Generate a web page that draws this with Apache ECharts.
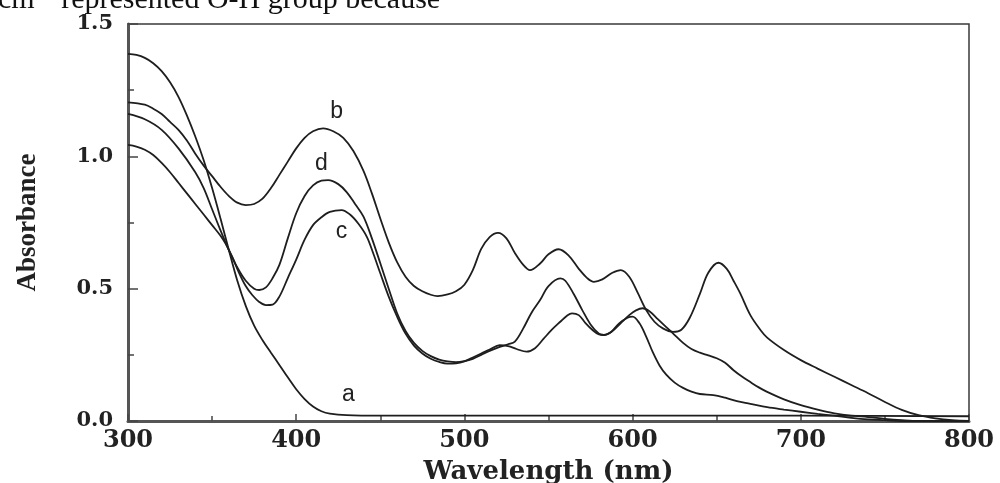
<!DOCTYPE html>
<html>
<head>
<meta charset="utf-8">
<title>Absorbance spectra</title>
<script src="https://cdn.jsdelivr.net/npm/echarts@6/dist/echarts.min.js"></script>
<style>
    html, body {margin: 0; padding: 0; background: #fff;}
    #chart {width: 1000px; height: 483px;}
</style>
</head>
<body>
<div id="chart"></div>
<script>
// 刻度
const xTicks = [300, 400, 500, 600, 700, 800];
const yTicks = [0.0, 0.5, 1.0, 1.5];

// 曲线 a
const aWl = [300, 305, 310, 315, 320, 325, 330, 335, 340, 345, 350, 355, 360, 365, 370, 375, 380, 385, 390, 395, 400, 405, 410, 415, 420, 430, 450, 500, 600, 700, 800];
const aAbs = [1.387, 1.383, 1.372, 1.352, 1.322, 1.28, 1.225, 1.155, 1.075, 0.985, 0.88, 0.765, 0.645, 0.53, 0.435, 0.36, 0.305, 0.258, 0.212, 0.165, 0.12, 0.083, 0.055, 0.037, 0.028, 0.022, 0.02, 0.02, 0.02, 0.02, 0.018];

// 曲线 b
const bWl = [300, 310, 315, 320, 325, 330, 335, 340, 345, 350, 355, 360, 365, 370, 375, 380, 385, 390, 395, 400, 405, 410, 416, 422, 428, 434, 440, 445, 450, 455, 460, 465, 470, 475, 480, 484, 490, 495, 500, 505, 510, 515, 520, 525, 530, 535, 539, 545, 550, 556, 562, 568, 573, 577, 582, 588, 593, 598, 603, 608, 613, 618, 624, 629, 634, 640, 645, 651, 656, 660, 664, 670, 676, 680, 690, 700, 710, 720, 730, 740, 750, 760, 770, 780, 790, 800];
const bAbs = [1.204, 1.195, 1.18, 1.16, 1.13, 1.10, 1.06, 1.01, 0.965, 0.925, 0.885, 0.85, 0.825, 0.816, 0.82, 0.84, 0.88, 0.93, 0.98, 1.03, 1.07, 1.095, 1.106, 1.095, 1.07, 1.02, 0.945, 0.86, 0.765, 0.675, 0.60, 0.545, 0.51, 0.49, 0.477, 0.472, 0.478, 0.49, 0.515, 0.57, 0.65, 0.695, 0.711, 0.69, 0.635, 0.59, 0.57, 0.595, 0.63, 0.649, 0.625, 0.575, 0.54, 0.526, 0.535, 0.56, 0.57, 0.545, 0.485, 0.42, 0.375, 0.35, 0.337, 0.345, 0.39, 0.48, 0.56, 0.598, 0.575, 0.53, 0.482, 0.40, 0.344, 0.315, 0.268, 0.23, 0.198, 0.167, 0.136, 0.105, 0.072, 0.042, 0.022, 0.01, 0.003, 0.0];

// 曲线 c
const cWl = [300, 305, 310, 315, 320, 325, 330, 335, 340, 345, 350, 355, 358, 362, 366, 370, 374, 378, 382, 386, 390, 395, 400, 405, 410, 415, 420, 427, 432, 437, 442, 446, 450, 455, 460, 465, 470, 475, 480, 485, 490, 495, 500, 505, 510, 515, 521, 526, 531, 537, 542, 547, 552, 557, 561, 564, 568, 572, 576, 580, 583, 588, 593, 598, 602, 606, 610, 615, 620, 624, 630, 635, 640, 645, 650, 655, 660, 665, 670, 675, 680, 690, 700, 710, 720, 730, 740, 750, 760, 770, 800];
const cAbs = [1.043, 1.037, 1.025, 1.005, 0.975, 0.94, 0.90, 0.86, 0.82, 0.78, 0.74, 0.70, 0.67, 0.62, 0.56, 0.51, 0.475, 0.45, 0.438, 0.44, 0.47, 0.54, 0.61, 0.685, 0.74, 0.77, 0.79, 0.797, 0.78, 0.745, 0.696, 0.63, 0.558, 0.47, 0.394, 0.33, 0.285, 0.255, 0.235, 0.223, 0.217, 0.218, 0.225, 0.24, 0.255, 0.27, 0.287, 0.283, 0.272, 0.262, 0.275, 0.31, 0.345, 0.375, 0.398, 0.407, 0.40, 0.37, 0.345, 0.327, 0.325, 0.34, 0.37, 0.40, 0.418, 0.426, 0.415, 0.385, 0.355, 0.331, 0.295, 0.272, 0.258, 0.248, 0.237, 0.22, 0.192, 0.168, 0.147, 0.127, 0.11, 0.082, 0.06, 0.043, 0.029, 0.02, 0.015, 0.008, 0.003, 0.0, 0.0];

// 曲线 d
const dWl = [300, 310, 320, 330, 340, 345, 350, 355, 360, 365, 370, 375, 378, 382, 386, 390, 395, 400, 405, 410, 415, 419, 425, 430, 435, 440, 445, 450, 455, 460, 465, 470, 475, 480, 485, 490, 495, 500, 505, 510, 515, 521, 526, 530, 535, 540, 545, 550, 557, 560, 565, 570, 575, 580, 583, 587, 592, 597, 600, 604, 608, 612, 616, 620, 625, 630, 635, 640, 648, 655, 662, 670, 680, 690, 700, 710, 720, 730, 740, 750, 760, 800];
const dAbs = [1.16, 1.14, 1.10, 1.03, 0.94, 0.88, 0.80, 0.72, 0.645, 0.58, 0.53, 0.50, 0.495, 0.505, 0.54, 0.59, 0.69, 0.785, 0.85, 0.89, 0.908, 0.91, 0.895, 0.865, 0.82, 0.772, 0.69, 0.596, 0.50, 0.407, 0.34, 0.295, 0.265, 0.245, 0.232, 0.225, 0.222, 0.226, 0.235, 0.25, 0.265, 0.28, 0.29, 0.30, 0.35, 0.41, 0.457, 0.51, 0.539, 0.53, 0.48, 0.42, 0.365, 0.33, 0.325, 0.335, 0.369, 0.39, 0.394, 0.37, 0.32, 0.26, 0.21, 0.175, 0.145, 0.125, 0.111, 0.102, 0.098, 0.088, 0.075, 0.065, 0.052, 0.043, 0.035, 0.027, 0.02, 0.012, 0.006, 0.003, 0.0, 0.0];

// 曲线标注 (名称, 波长, 吸光度)
const labelNames = ['a', 'b', 'c', 'd'];
const labelWl = [431, 424, 427, 415];
const labelAbs = [0.098, 1.167, 0.714, 0.971];

const wlList = [aWl, bWl, cWl, dWl];
const absList = [aAbs, bAbs, cAbs, dAbs];

const ink = '#1e1e1e';
const serifBold = {fontFamily: '"DejaVu Serif"', fontWeight: 'bold', color: '#222'};

//组装 series
const buildSeries = () => labelNames.map((name, i) => ({
    name,
    type: 'line',
    smooth: 0.35,
    showSymbol: false,
    symbol: 'none',
    silent: true,
    lineStyle: {color: ink, width: 1.8},
    data: wlList[i].map((w, k) => [w, absList[i][k]]),
    markPoint: {
        symbol: 'circle',
        symbolSize: 1,
        silent: true,
        itemStyle: {color: 'rgba(0,0,0,0)'},
        label: {
            show: true,
            position: 'inside',
            formatter: name,
            fontFamily: '"Liberation Sans"',
            fontSize: 23,
            color: '#222'
        },
        data: [{coord: [labelWl[i], labelAbs[i]], name}]
    }
}));

const myChart = echarts.init(document.getElementById('chart'), null, {renderer: 'canvas'});

const option = {
    animation: false,
    backgroundColor: '#fff',
    //页面顶部被截断的正文
    graphic: [{
        type: 'text',
        left: -2,
        top: -15,
        silent: true,
        style: {
            text: 'cm\u207B\u00B9 represented O-H group because',
            font: '30px "Liberation Serif"',
            fill: '#111'
        }
    }],
    grid: {
        left: 128,
        right: 31,
        top: 24,
        bottom: 62,
        outerBoundsMode: 'none',
        containLabel: false,
        show: true,
        borderColor: '#3a3a3a',
        borderWidth: 1.5,
        backgroundColor: 'transparent'
    },
    xAxis: {
        type: 'value',
        min: xTicks[0],
        max: xTicks[xTicks.length - 1],
        interval: 100,
        name: 'Wavelength (nm)',
        nameLocation: 'middle',
        nameGap: 38,
        nameTextStyle: Object.assign({fontSize: 26}, serifBold),
        axisLine: {show: true, onZero: false, lineStyle: {color: '#555', width: 3}},
        axisTick: {show: true, inside: true, length: 7, lineStyle: {color: '#444', width: 1.5}},
        minorTick: {show: true, splitNumber: 2, length: 5, lineStyle: {color: '#444', width: 1.5}},
        splitLine: {show: false},
        axisLabel: Object.assign({fontSize: 24, margin: 8, showMinLabel: true, showMaxLabel: true}, serifBold)
    },
    yAxis: {
        type: 'value',
        min: yTicks[0],
        max: yTicks[yTicks.length - 1],
        interval: 0.5,
        name: 'Absorbance',
        nameLocation: 'middle',
        nameRotate: 90,
        nameGap: 86,
        nameTextStyle: {fontFamily: '"Liberation Serif"', fontWeight: 'bold', fontSize: 27, color: '#222'},
        axisLine: {show: true, onZero: false, lineStyle: {color: '#555', width: 3}},
        axisTick: {show: true, inside: true, length: 10, lineStyle: {color: '#444', width: 1.5}},
        minorTick: {show: true, splitNumber: 2, length: 6, lineStyle: {color: '#444', width: 1.5}},
        splitLine: {show: false},
        axisLabel: Object.assign({
            fontSize: 21,
            margin: 15,
            formatter: v => v.toFixed(1)
        }, serifBold)
    },
    series: buildSeries()
};

myChart.setOption(option);
</script>
</body>
</html>
